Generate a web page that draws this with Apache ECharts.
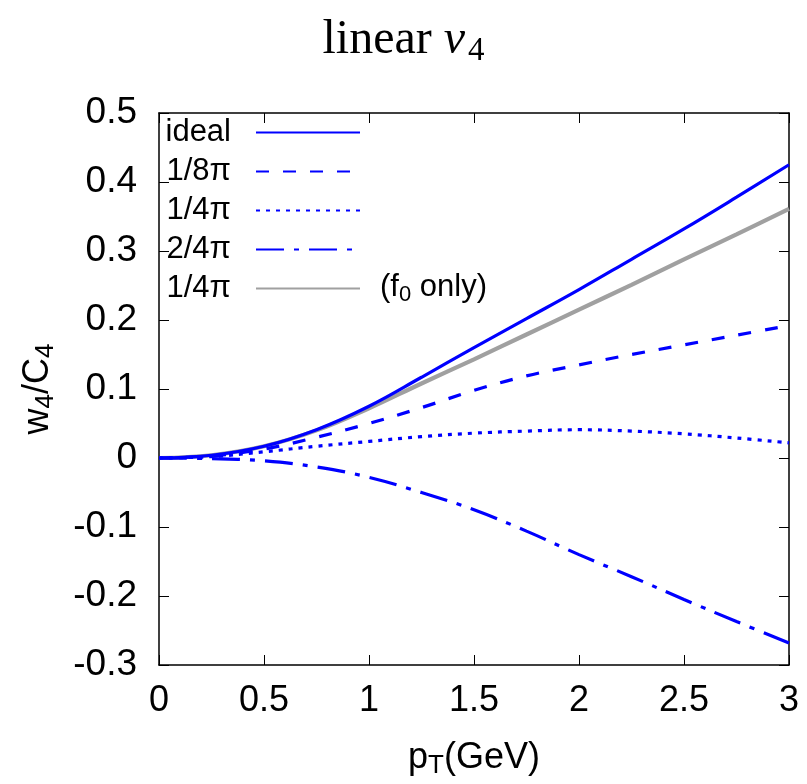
<!DOCTYPE html>
<html>
<head>
<meta charset="utf-8">
<script src="https://cdn.jsdelivr.net/npm/echarts@6/dist/echarts.min.js"></script>
<style>
html,body{margin:0;padding:0;background:#fff;}
#chart{width:807px;height:784px;}
</style>
</head>
<body>
<div id="chart"></div>
<script>
// pT values (GeV)
const pT = [0, 0.25, 0.5, 0.75, 1, 1.25, 1.5, 1.75, 2, 2.25, 2.5, 2.75, 3];
// w4/C4 curves
const ideal    = [0, 0.004, 0.017, 0.041, 0.075, 0.117, 0.160, 0.202, 0.244, 0.288, 0.332, 0.378, 0.425];
const eta1_8pi = [0, 0.003, 0.013, 0.030, 0.050, 0.073, 0.098, 0.119, 0.135, 0.150, 0.164, 0.178, 0.192];
const eta1_4pi = [0, 0.002, 0.009, 0.017, 0.024, 0.031, 0.036, 0.039, 0.041, 0.039, 0.035, 0.029, 0.022];
const eta2_4pi = [0, -0.001, -0.004, -0.013, -0.028, -0.050, -0.075, -0.106, -0.140, -0.172, -0.205, -0.237, -0.268];
const f0only   = [0, 0.004, 0.017, 0.040, 0.072, 0.108, 0.143, 0.179, 0.215, 0.251, 0.288, 0.324, 0.361];

const xTicks = [0, 0.5, 1, 1.5, 2, 2.5, 3];
const yTicks = [-0.3, -0.2, -0.1, 0, 0.1, 0.2, 0.3, 0.4, 0.5];

const seriesNames = ['ideal', '1/8π', '1/4π', '2/4π', '1/4π (f0 only)'];
const seriesData = [ideal, eta1_8pi, eta1_4pi, eta2_4pi, f0only];

function pairs(ys) { return pT.map((x, i) => [x, ys[i]]); }

const BLUE = '#0000ff';
const GRAY = '#a0a0a0';
const styles = [
  { color: BLUE, width: 3.2, type: 'solid' },
  { color: BLUE, width: 3.2, type: [13, 14] },
  { color: BLUE, width: 3.2, type: [4, 6] },
  { color: BLUE, width: 3.2, type: [28, 10, 5, 10] },
  { color: GRAY, width: 4.2, type: 'solid' }
];

const SANS = '"Liberation Sans", Arial, Helvetica, sans-serif';
const SERIF = '"Liberation Serif", "Times New Roman", serif';

const chart = echarts.init(document.getElementById('chart'), null, { renderer: 'canvas' });

const axisCommon = {
  axisLine: { show: true, onZero: false, lineStyle: { color: '#000', width: 1.5 } },
  axisTick: { show: true, inside: true, length: 10, lineStyle: { color: '#000', width: 1 } },
  splitLine: { show: false }
};

const option = {
  backgroundColor: '#fff',
  animation: false,
  title: {
    text: '{n|linear }{v|v}{s|4}',
    left: 'center',
    top: 8,
    textStyle: {
      fontWeight: 'normal',
      rich: {
        n: { fontFamily: SERIF, fontSize: 48, fontWeight: 'normal', color: '#000' },
        v: { fontFamily: SERIF, fontSize: 48, fontWeight: 'normal', fontStyle: 'italic', color: '#000' },
        s: { fontFamily: SERIF, fontSize: 33, fontWeight: 'normal', color: '#000', padding: [22, 0, 0, 3] }
      }
    }
  },
  grid: { left: 159, right: 18, top: 113, bottom: 117, containLabel: false },
  legend: {
    orient: 'vertical',
    align: 'right',
    right: 446,
    top: 117,
    padding: 0,
    itemWidth: 104,
    itemHeight: 14,
    itemGap: 8,
    selectedMode: false,
    data: seriesNames,
    itemStyle: { opacity: 0, borderWidth: 0 },
    formatter: function (name) { return name.indexOf('(f0') >= 0 ? '1/4π' : name; },
    textStyle: { fontFamily: SANS, fontSize: 31, color: '#000', lineHeight: 31, padding: [0, 20, 0, 0] }
  },
  graphic: [{
    type: 'text',
    left: 380,
    top: 272,
    style: {
      text: '(f{sub|0} only)',
      fontFamily: SANS,
      fontSize: 31,
      fill: '#000',
      rich: { sub: { fontFamily: SANS, fontSize: 22, padding: [14, 0, 0, 0] } }
    }
  }],
  xAxis: [
    Object.assign({}, axisCommon, {
      type: 'value', min: 0, max: 3, interval: 0.5, position: 'bottom',
      name: '{p|p}{s|T}{p|(GeV)}',
      nameLocation: 'middle',
      nameGap: 72,
      nameTextStyle: {
        rich: {
          p: { fontFamily: SANS, fontSize: 36, color: '#000' },
          s: { fontFamily: SANS, fontSize: 26, color: '#000', padding: [16, 0, 0, 0] }
        }
      },
      axisLabel: { show: true, margin: 18, fontFamily: SANS, fontSize: 36, color: '#000',
        formatter: function (v) { return String(+v.toFixed(2)); } }
    }),
    Object.assign({}, axisCommon, {
      type: 'value', min: 0, max: 3, interval: 0.5, position: 'top',
      axisLabel: { show: false }
    })
  ],
  yAxis: [
    Object.assign({}, axisCommon, {
      type: 'value', min: -0.3, max: 0.5, interval: 0.1, position: 'left',
      name: '{p|w}{s|4}{p|/C}{s|4}',
      nameLocation: 'middle',
      nameGap: 100,
      nameTextStyle: {
        rich: {
          p: { fontFamily: SANS, fontSize: 36, color: '#000' },
          s: { fontFamily: SANS, fontSize: 26, color: '#000', padding: [16, 0, 0, 0] }
        }
      },
      axisLabel: { show: true, margin: 22, fontFamily: SANS, fontSize: 37, color: '#000',
        formatter: function (v) { return String(+v.toFixed(2)); } }
    }),
    Object.assign({}, axisCommon, {
      type: 'value', min: -0.3, max: 0.5, interval: 0.1, position: 'right',
      axisLabel: { show: false }
    })
  ],
  series: seriesNames.map((name, i) => ({
    name: name,
    type: 'line',
    xAxisIndex: 0,
    yAxisIndex: 0,
    data: pairs(seriesData[i]),
    smooth: 0.4,
    symbol: 'none',
    showSymbol: false,
    z: i === 4 ? 2 : 3,
    lineStyle: { color: styles[i].color, width: styles[i].width, type: styles[i].type },
    itemStyle: { color: styles[i].color }
  }))
};

chart.setOption(option);
</script>
</body>
</html>
